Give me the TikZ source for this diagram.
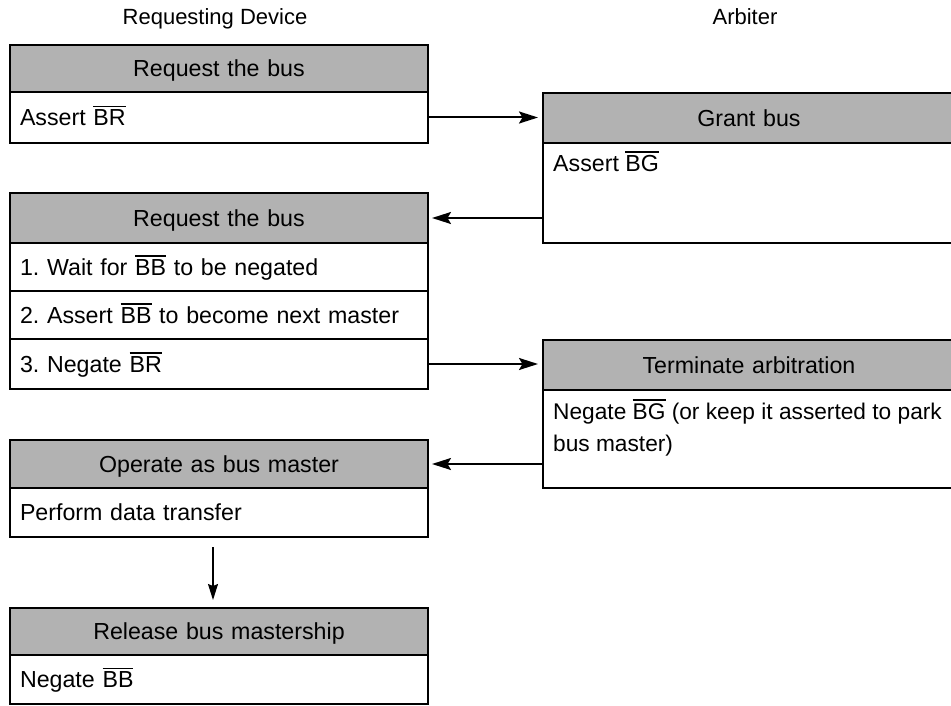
\documentclass[tikz,border=0pt]{standalone}
\usepackage{fontspec}
\setmainfont{Liberation Sans}
\usetikzlibrary{arrows.meta}
\frenchspacing
\newcommand\ovl[1]{\leavevmode\vbox{\hrule height 1.6pt\kern 2.4pt\hbox{#1}}}
\begin{document}
\begin{tikzpicture}[x=1pt,y=-1pt,
  every node/.style={font=\fontsize{23.2}{32}\selectfont},
  box/.style={draw, line width=2.6pt, inner ysep=0pt, inner xsep=10pt, outer sep=0pt, anchor=north west},
  lhdr/.style={box, fill=black!30, text width=398pt, align=center, text height=16.5pt, text depth=0pt},
  lrow/.style={box, fill=white, text width=398pt, align=left, text height=16.5pt, text depth=0pt},
  rhdr/.style={box, fill=black!30, text width=392pt, align=center, text height=16.5pt, text depth=0pt},
  rbody/.style={box, fill=white, text width=392pt},
  inner/.style={anchor=north west, inner sep=0pt, align=left},
  title/.style={font=\fontsize{22}{28}\selectfont, text height=16pt, text depth=0pt, inner sep=0pt},
  conn/.style={line width=2pt, -{Stealth[length=19pt,width=12pt,inset=3.5pt]}},
  down/.style={line width=1.2pt, -{Stealth[length=16pt,width=10pt,inset=2pt]}}
]
\clip (0,0) rectangle (951,706);

% column titles
\node[title] (tl) at (215,17) {Requesting Device};
\node[title] (tr) at (745,17) {Arbiter};

% left column
\node[lhdr, minimum height=47pt] (b1h) at (10,45) {Request the bus};
\node[lrow, minimum height=51pt] (b1r) at (10,92) {Assert \ovl{BR}};

\node[lhdr, minimum height=50pt] (b2h) at (10,193) {Request the bus};
\node[lrow, minimum height=48pt] (b2r1) at (10,243) {1. Wait for \ovl{BB} to be negated};
\node[lrow, minimum height=48pt] (b2r2) at (10,291) {2. Assert \ovl{BB} to become next master};
\node[lrow, minimum height=50pt] (b2r3) at (10,339) {3. Negate \ovl{BR}};

\node[lhdr, minimum height=48pt] (b3h) at (10,440) {Operate as bus master};
\node[lrow, minimum height=49pt] (b3r) at (10,488) {Perform data transfer};

\node[lhdr, minimum height=47pt] (b4h) at (10,608) {Release bus mastership};
\node[lrow, minimum height=49pt] (b4r) at (10,655) {Negate \ovl{BB}};

% right column
\node[rhdr, minimum height=50pt] (gh) at (543,93) {Grant bus};
\node[rbody, minimum height=100pt] (gb) at (543,143) {};
\node[inner] (gbt) at ([shift={(10,8)}]gb.north west) {Assert \ovl{BG}};

\node[rhdr, minimum height=50pt] (th) at (543,340) {Terminate arbitration};
\node[rbody, minimum height=98pt] (tb) at (543,390) {};
\node[inner, font=\fontsize{22.7}{32}\selectfont] (tbt) at ([shift={(10,9)}]tb.north west) {Negate \ovl{BG} (or keep it asserted to park\\bus master)};

% connectors
\draw[conn, shorten >=5pt] (b1r.east) -- (b1r.east -| gh.west);
\draw[conn, shorten >=4pt] (b2h.east -| gb.west) -- (b2h.east);
\draw[conn, shorten >=5pt] (b2r3.east) -- (b2r3.east -| th.west);
\draw[conn, shorten >=4pt] (b3h.east -| tb.west) -- (b3h.east);
\draw[down, shorten <=10pt, shorten >=8pt] ([xshift=-6pt]b3r.south) -- ([xshift=-6pt]b4h.north);
\end{tikzpicture}
\end{document}
